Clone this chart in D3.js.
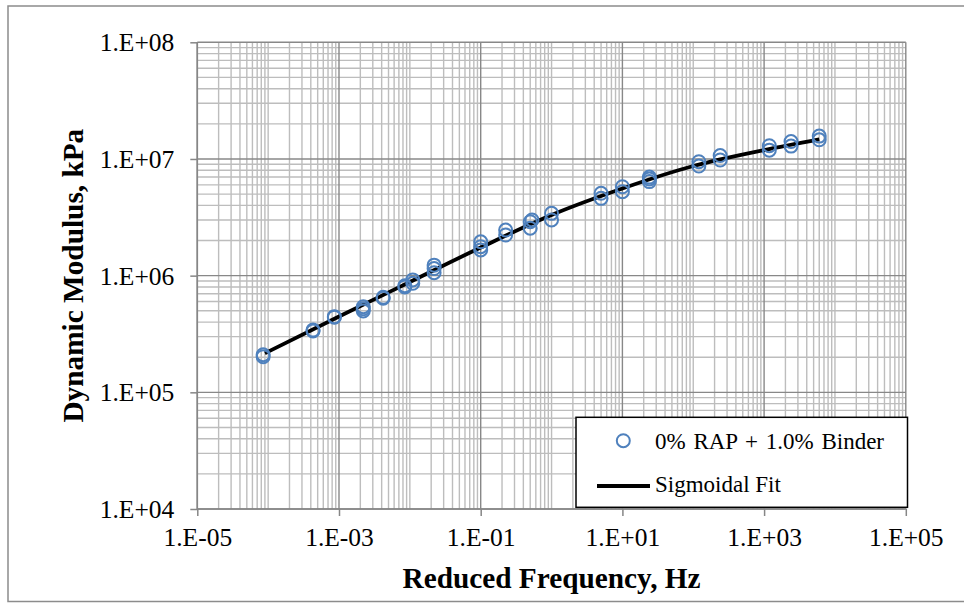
<!DOCTYPE html>
<html>
<head>
<meta charset="utf-8">
<script src="https://cdnjs.cloudflare.com/ajax/libs/d3/7.8.5/d3.min.js"></script>
<style>
  html, body { margin: 0; padding: 0; background: #fff; }
  svg { display: block; }
  text { font-family: "Liberation Serif", "Times New Roman", serif; fill: #000; }
</style>
</head>
<body>
<svg id="chart" width="964" height="605"></svg>
<script>
// ---- data ----
const measFreq = [8.5e-5, 8.5e-5, 4.3e-4, 4.3e-4, 8.6e-4, 8.6e-4,
  2.2e-3, 2.2e-3, 2.2e-3, 4.2e-3, 4.2e-3, 8.5e-3, 8.5e-3, 1.1e-2, 1.1e-2,
  2.2e-2, 2.2e-2, 2.2e-2, 0.1, 0.1, 0.1, 0.225, 0.225, 0.5, 0.5, 0.53,
  1.0, 1.0, 5.0, 5.0, 10, 10, 24, 24, 24, 120, 120, 240, 240,
  1185, 1185, 2400, 2400, 6000, 6000];
const measModulus = [2.1e5, 2.02e5, 3.42e5, 3.35e5, 4.45e5, 4.4e5,
  5.42e5, 5.2e5, 4.98e5, 6.52e5, 6.4e5, 8.2e5, 8.0e5, 9.2e5, 8.6e5,
  1.23e6, 1.15e6, 1.06e6, 1.95e6, 1.77e6, 1.66e6, 2.46e6, 2.23e6, 2.9e6, 2.55e6, 3.0e6,
  3.42e6, 3.0e6, 5.08e6, 4.6e6, 5.78e6, 5.24e6, 7.0e6, 6.75e6, 6.4e6, 9.48e6, 8.7e6, 1.07e7, 9.8e6,
  1.3e7, 1.19e7, 1.41e7, 1.29e7, 1.57e7, 1.46e7];

const fitFreq = [9.0e-5, 1e-3, 1e-2, 1e-1, 1, 10, 100, 1000, 6010];
const fitModulus = [2.16e5, 4.47e5, 8.82e5, 1.743e6, 3.31e6, 5.58e6, 8.70e6, 1.193e7, 1.474e7];

const xTickValues = [1e-5, 1e-3, 1e-1, 1e1, 1e3, 1e5];
const xTickLabels = ["1.E-05", "1.E-03", "1.E-01", "1.E+01", "1.E+03", "1.E+05"];
const yTickValues = [1e4, 1e5, 1e6, 1e7, 1e8];
const yTickLabels = ["1.E+04", "1.E+05", "1.E+06", "1.E+07", "1.E+08"];

const seriesName = "0% RAP + 1.0% Binder";
const fitName = "Sigmoidal Fit";
const xTitle = "Reduced Frequency, Hz";
const yTitle = "Dynamic Modulus, kPa";

// ---- layout ----
const svg = d3.select("#chart");
const L = 197.3, R = 905.8, T = 42.3, B = 509;
const x = d3.scaleLog().domain([1e-5, 1e5]).range([L, R]);
const y = d3.scaleLog().domain([1e4, 1e8]).range([B, T]);

// outer frame
svg.append("rect").attr("x", 8).attr("y", 6).attr("width", 980).attr("height", 595.5)
  .attr("fill", "#fff").attr("stroke", "#8c8c8c").attr("stroke-width", 1.5);

// gridlines
const minorX = [], minorY = [];
for (let e = -5; e < 5; e++) for (let m = 1; m <= 9; m++) {
  const v = m * Math.pow(10, e);
  if (!xTickValues.some(t => Math.abs(t - v) / v < 1e-9)) minorX.push(v);
}
for (let e = 4; e < 8; e++) for (let m = 2; m <= 9; m++) minorY.push(m * Math.pow(10, e));

const g = svg.append("g");
g.selectAll(".mx").data(minorX).enter().append("line")
  .attr("x1", d => x(d)).attr("x2", d => x(d)).attr("y1", T).attr("y2", B)
  .attr("stroke", "#bdbdbd").attr("stroke-width", 1.4);
g.selectAll(".my").data(minorY).enter().append("line")
  .attr("x1", L).attr("x2", R).attr("y1", d => y(d)).attr("y2", d => y(d))
  .attr("stroke", "#bdbdbd").attr("stroke-width", 1.4);
g.selectAll(".Mx").data(xTickValues).enter().append("line")
  .attr("x1", d => x(d)).attr("x2", d => x(d)).attr("y1", T).attr("y2", B)
  .attr("stroke", "#888888").attr("stroke-width", 1.4);
g.selectAll(".My").data(yTickValues).enter().append("line")
  .attr("x1", L).attr("x2", R).attr("y1", d => y(d)).attr("y2", d => y(d))
  .attr("stroke", "#888888").attr("stroke-width", 1.4);

// axes
const xAxis = d3.axisBottom(x).tickValues(xTickValues)
  .tickFormat((d, i) => xTickLabels[i]).tickSize(7).tickPadding(12);
const yAxis = d3.axisLeft(y).tickValues(yTickValues)
  .tickFormat((d, i) => yTickLabels[i]).tickSize(7).tickPadding(16);

const gx = svg.append("g").attr("transform", `translate(0,${B})`).call(xAxis);
const gy = svg.append("g").attr("transform", `translate(${L},0)`).call(yAxis);
[gx, gy].forEach(a => {
  a.select(".domain").attr("stroke", "#868686").attr("stroke-width", 1.6);
  a.selectAll(".tick line").attr("stroke", "#868686").attr("stroke-width", 1.5);
  a.selectAll(".tick text").attr("font-family", "'Liberation Serif', 'Times New Roman', serif")
    .attr("font-size", 25.5).attr("fill", "#000");
});
gx.select(".domain").attr("d", `M${L},0H${R}`);
gy.select(".domain").attr("d", `M0,${B}V${T}`);
gx.selectAll(".tick text").attr("dy", "0.71em");
gy.selectAll(".tick text").attr("dy", "0.33em");

// fit line
const line = d3.line().x(d => x(d[0])).y(d => y(d[1])).curve(d3.curveMonotoneX);
svg.append("path").datum(fitFreq.map((f, i) => [f, fitModulus[i]]))
  .attr("d", line).attr("fill", "none").attr("stroke", "#000").attr("stroke-width", 3.8);

// measured points
svg.append("g").selectAll("circle").data(measFreq.map((f, i) => [f, measModulus[i]]))
  .enter().append("circle")
  .attr("cx", d => x(d[0])).attr("cy", d => y(d[1])).attr("r", 6.5)
  .attr("fill", "none").attr("stroke", "#4f81bd").attr("stroke-width", 2);

// titles
svg.append("text").attr("x", (L + R) / 2).attr("y", 588).attr("text-anchor", "middle")
  .attr("font-size", 29.3).attr("font-weight", "bold").text(xTitle);
svg.append("text").attr("transform", `translate(82.5,${(T + B) / 2}) rotate(-90)`)
  .attr("text-anchor", "middle").attr("font-size", 29.3).attr("font-weight", "bold").text(yTitle);

// legend
const lg = svg.append("g");
lg.append("rect").attr("x", 576).attr("y", 417.3).attr("width", 331.5).attr("height", 90)
  .attr("fill", "#fff").attr("stroke", "#000").attr("stroke-width", 1.5);
lg.append("circle").attr("cx", 623.3).attr("cy", 440.7).attr("r", 6.5)
  .attr("fill", "none").attr("stroke", "#4f81bd").attr("stroke-width", 2);
lg.append("text").attr("x", 655).attr("y", 448.5).attr("font-size", 23)
  .attr("word-spacing", 2).text(seriesName);
lg.append("line").attr("x1", 597).attr("x2", 650).attr("y1", 486).attr("y2", 486)
  .attr("stroke", "#000").attr("stroke-width", 3.8);
lg.append("text").attr("x", 655).attr("y", 492).attr("font-size", 23).text(fitName);
</script>
</body>
</html>
